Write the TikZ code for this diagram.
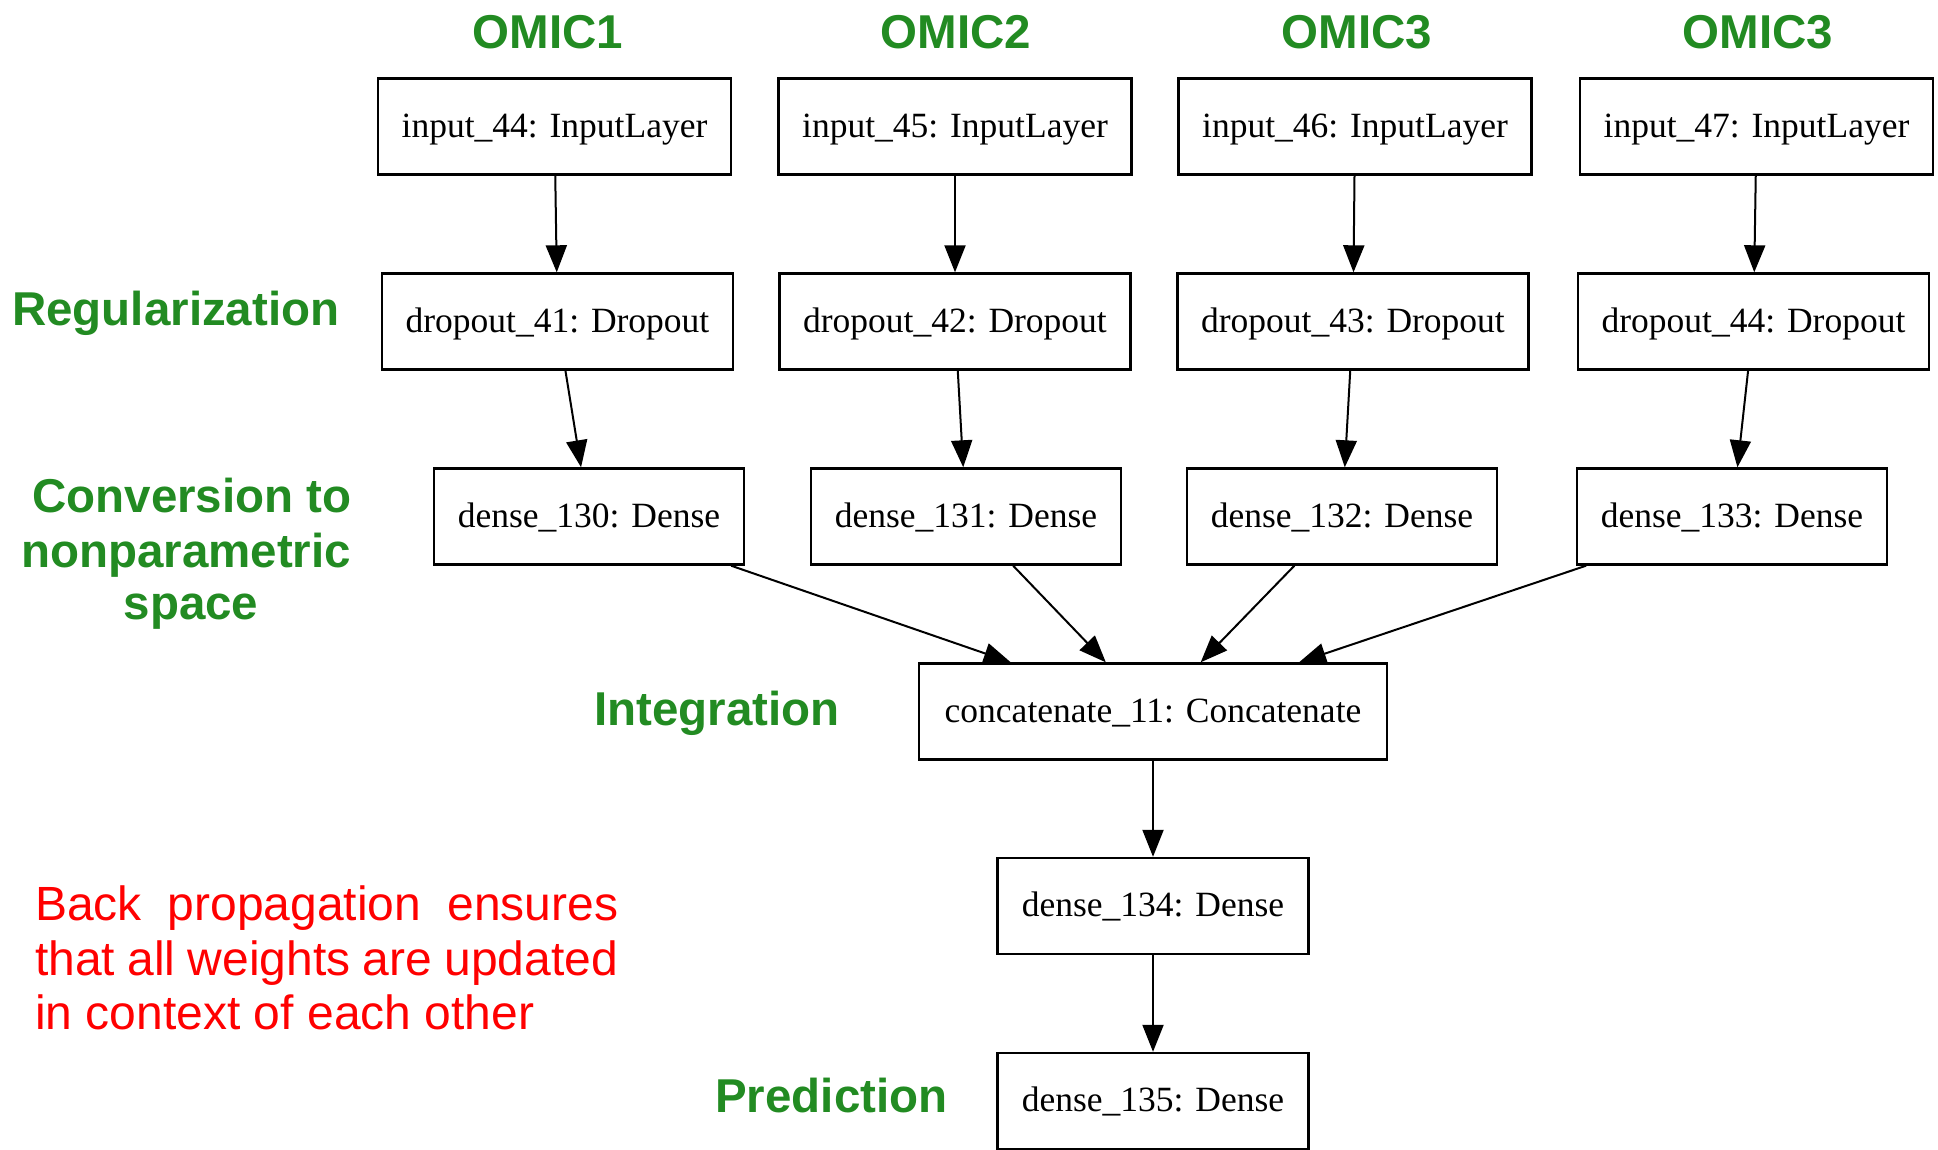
\documentclass[tikz,border=0pt]{standalone}
\usepackage{fontspec}
\setmainfont{Liberation Serif}
\newfontfamily\labelsans{Liberation Sans}
\usetikzlibrary{arrows.meta}
\definecolor{lblgreen}{RGB}{34,139,34}
\definecolor{lblred}{RGB}{255,0,0}
\begin{document}
\begin{tikzpicture}[x=1pt,y=-1pt,
  layerbox/.style={draw, line width=2.4pt, inner sep=0pt, minimum height=96pt,
    text height=28pt, text depth=7pt,
    font=\fontsize{35.5}{40}\selectfont},
  inbox/.style={layerbox, minimum width=353pt},
  dropbox/.style={layerbox, minimum width=351pt},
  densebox/.style={layerbox, minimum width=310pt},
  arr/.style={line width=2pt, -{Triangle[length=27pt,width=21pt]}},
  glabel/.style={inner sep=0pt, text=lblgreen,
    font=\labelsans\bfseries\fontsize{47.5}{55}\selectfont},
  rlabel/.style={inner sep=0pt, text=lblred, anchor=base west,
    font=\labelsans\fontsize{48}{54.5}\selectfont}]
\useasboundingbox (0,0) rectangle (1938,1149);
\fill[white] (0,0) rectangle (1938,1149);

% column labels
\node[glabel, anchor=base] (omic1) at (548,48) {OMIC1};
\node[glabel, anchor=base] (omic2) at (956,48) {OMIC2};
\node[glabel, anchor=base] (omic3) at (1357,48) {OMIC3};
\node[glabel, anchor=base] (omic4) at (1758,48) {OMIC3};

% row labels
\node[glabel, anchor=base west] (reg) at (12,325) {Regularization};
\node[glabel, anchor=base] (conv1) at (192,512) {Conversion to};
\node[glabel, anchor=base] (conv2) at (186,567) {nonparametric};
\node[glabel, anchor=base] (conv3) at (191,619) {space};
\node[glabel, anchor=base west] (integ) at (594,725) {Integration};
\node[glabel, anchor=base west] (pred) at (715,1112) {Prediction};

% red note
\node[rlabel] (note1) at (35,920) {\makebox[583pt][s]{Back propagation ensures}};
\node[rlabel] (note2) at (35,975) {\makebox[583pt][s]{that all weights are updated}};
\node[rlabel] (note3) at (35,1029) {in context of each other};

% input layers
\node[inbox] (in1) at (554.5,126.5) {input\_44: InputLayer};
\node[inbox] (in2) at (955,126.5) {input\_45: InputLayer};
\node[inbox] (in3) at (1355,126.5) {input\_46: InputLayer};
\node[inbox] (in4) at (1756.5,126.5) {input\_47: InputLayer};

% dropout layers
\node[dropbox] (dr1) at (557.5,321.5) {dropout\_41: Dropout};
\node[dropbox] (dr2) at (955,321.5) {dropout\_42: Dropout};
\node[dropbox] (dr3) at (1353,321.5) {dropout\_43: Dropout};
\node[dropbox] (dr4) at (1753.5,321.5) {dropout\_44: Dropout};

% dense layers
\node[densebox] (de1) at (589,516.5) {dense\_130: Dense};
\node[densebox] (de2) at (966,516.5) {dense\_131: Dense};
\node[densebox] (de3) at (1342,516.5) {dense\_132: Dense};
\node[densebox] (de4) at (1732,516.5) {dense\_133: Dense};

% merge and output
\node[layerbox, minimum width=468pt] (cat) at (1153,711.5) {concatenate\_11: Concatenate};
\node[densebox, minimum width=311pt] (d134) at (1153,906) {dense\_134: Dense};
\node[densebox, minimum width=311pt] (d135) at (1153,1101) {dense\_135: Dense};

% connectors
\foreach \i in {1,2,3,4} {
  \draw[arr] (in\i) -- (dr\i);
  \draw[arr] (dr\i) -- (de\i);
  \draw[arr] (de\i) -- (cat);
}
\draw[arr] (cat) -- (d134);
\draw[arr] (d134) -- (d135);
\end{tikzpicture}
\end{document}
